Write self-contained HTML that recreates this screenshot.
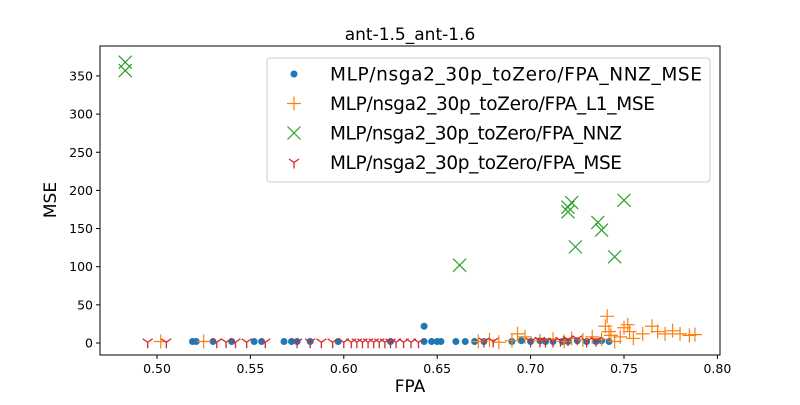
<!DOCTYPE html>
<html><head><meta charset="utf-8"><style>
body{margin:0;background:#fff;font-family:"Liberation Sans","DejaVu Sans",sans-serif}
svg text{font-family:"DejaVu Sans","Liberation Sans",sans-serif}
</style></head><body>
<svg id="c" width="800" height="400"></svg>
<script>
const blueX=[0.519,0.521,0.530,0.540,0.552,0.556,0.568,0.572,0.575,0.582,0.597,0.625,0.643,0.643,0.647,0.650,0.652,0.660,0.665,0.670,0.675,0.690,0.695,0.700,0.705,0.708,0.712,0.717,0.720,0.725,0.730,0.735,0.738,0.742];
const blueY=[2,2,2,2,2,2,2,2,2,2,2,2,22,2,2,2,2,2,2,2,2,2,3,2,3,2,2,2,2,3,2,2,3,2];
const orangeX=[0.502,0.525,0.672,0.678,0.683,0.690,0.693,0.697,0.705,0.712,0.718,0.722,0.728,0.733,0.738,0.740,0.741,0.742,0.743,0.745,0.748,0.750,0.752,0.753,0.755,0.760,0.765,0.768,0.772,0.776,0.780,0.785,0.788];
const orangeY=[2,2,2,4,1,3,12,8,3,5,2,6,4,8,5,22,35,15,10,2,8,20,24,15,6,12,22,15,12,16,12,10,11];
const greenX=[0.483,0.483,0.662,0.720,0.720,0.722,0.724,0.736,0.738,0.745,0.750];
const greenY=[368,357,102,172,178,184,126,158,148,113,187];
const redX=[0.495,0.505,0.532,0.537,0.542,0.548,0.558,0.575,0.582,0.588,0.594,0.600,0.604,0.607,0.610,0.613,0.616,0.619,0.622,0.625,0.628,0.632,0.636,0.640,0.675,0.680,0.700,0.705,0.708,0.712,0.716,0.720,0.725,0.730,0.735];
const redY=[1,1,1,1,1,1,1,1,1,1,1,1,1,1,1,1,1,1,1,1,1,1,1,1,2,2,2,3,2,2,3,4,5,2,3];
const xTicks=[0.50,0.55,0.60,0.65,0.70,0.75,0.80];
const yTicks=[0,50,100,150,200,250,300,350];
const NS="http://www.w3.org/2000/svg",svg=document.getElementById('c');
const L=100,R=720,T=46,B=355;
const sx=v=>157+(v-0.5)*1868, sy=v=>343-v*0.763;
function mk(t,a,p){const e=document.createElementNS(NS,t);for(const k in a)e.setAttribute(k,a[k]);(p||svg).appendChild(e);return e;}
const frame=mk('rect',{x:L,y:T,width:R-L,height:B-T,fill:'none',stroke:'#000','stroke-width':1});


xTicks.forEach(v=>{const x=sx(v);mk('line',{x1:x,x2:x,y1:B,y2:B+4,stroke:'#000'});
const t=mk('text',{x:x,y:B+18,'text-anchor':'middle','font-size':12.5});t.textContent=v.toFixed(2);

});
yTicks.forEach(v=>{const y=sy(v);mk('line',{x1:L-4,x2:L,y1:y,y2:y,stroke:'#000'});
const t=mk('text',{x:L-7,y:y+4.5,'text-anchor':'end','font-size':12.5});t.textContent=v;

});
function plus(g,x,y,c){mk('path',{d:`M${x-7} ${y}H${x+7}M${x} ${y-7}V${y+7}`,stroke:c,'stroke-width':1.2,fill:'none'},g);}
function cross(g,x,y,c){mk('path',{d:`M${x-6.5} ${y-6.5}L${x+6.5} ${y+6.5}M${x-6.5} ${y+6.5}L${x+6.5} ${y-6.5}`,stroke:c,'stroke-width':1.2,fill:'none'},g);}
function tri(g,x,y,c){mk('path',{d:`M${x} ${y}V${y+6}M${x} ${y}L${x-5} ${y-3.5}M${x} ${y}L${x+5} ${y-3.5}`,stroke:c,'stroke-width':1.3,fill:'none'},g);}
function dot(g,x,y,c){mk('circle',{cx:x,cy:y,r:3.5,fill:c},g);}
function series(name,xs,ys,fn,c){const g=mk('g',{});xs.forEach((v,i)=>fn(g,sx(v),sy(ys[i]),c));}
series('series-fpa-nnz-mse',blueX,blueY,dot,'#1f77b4');
series('series-fpa-l1-mse',orangeX,orangeY,plus,'#ff7f0e');
series('series-fpa-nnz',greenX,greenY,cross,'#2ca02c');
series('series-fpa-mse',redX,redY,tri,'#d62728');
const tt=mk('text',{x:410,y:40,'text-anchor':'middle','font-size':17});tt.textContent='ant-1.5_ant-1.6';


const xl=mk('text',{x:410,y:392,'text-anchor':'middle','font-size':17});xl.textContent='FPA';


const yl=mk('text',{x:56,y:200,'text-anchor':'middle','font-size':17,transform:'rotate(-90 56 200)'});yl.textContent='MSE';


const lg=mk('g',{});


mk('rect',{x:267,y:58,width:443,height:124,rx:3,fill:'#fff','fill-opacity':0.8,stroke:'#ccc'},lg);
const names=['MLP/nsga2_30p_toZero/FPA_NNZ_MSE','MLP/nsga2_30p_toZero/FPA_L1_MSE','MLP/nsga2_30p_toZero/FPA_NNZ','MLP/nsga2_30p_toZero/FPA_MSE'];
const fns=[dot,plus,cross,tri],cols=['#1f77b4','#ff7f0e','#2ca02c','#d62728'];
names.forEach((n,i)=>{const y=74+i*29.5;const e=mk('g',{},lg);


fns[i](e,294,y,cols[i]);const t=mk('text',{x:330,y:y+6.5,'font-size':18.5,textLength:i==0?372:i==1?325:i==2?292:292},e);t.textContent=n;});
</script>
</body></html>
